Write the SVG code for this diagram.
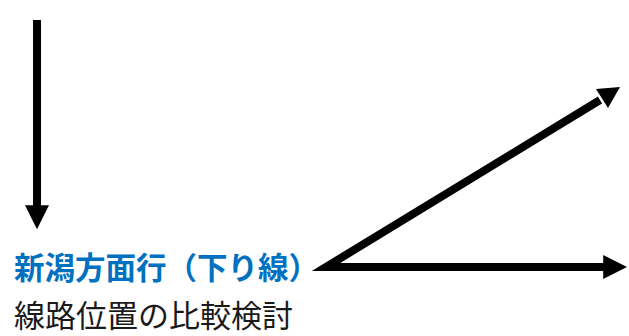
<svg xmlns="http://www.w3.org/2000/svg" width="629" height="336" viewBox="0 0 629 336">
<style>
.t{font-family:"Noto Sans CJK JP","Noto Sans",sans-serif;}
.title{font-size:30.5px;font-weight:bold;fill:#0070C0;}
.sub{font-size:31px;fill:#1a1a1a;}
.ln{stroke:#000;stroke-width:8;fill:none;}
</style>
<defs>
<marker id="ah" viewBox="0 0 10 10" refX="2" refY="5" markerWidth="3" markerHeight="3" orient="auto" markerUnits="strokeWidth">
<path d="M0,0 L10,5 L0,10 z" fill="#000"/>
</marker>
</defs>
<g id="connectors">
<line class="ln" x1="37" y1="20" x2="37" y2="210" marker-end="url(#ah)"/>
<polyline class="ln" points="600,100 326,267 608,267" stroke-linejoin="miter" stroke-miterlimit="10" marker-end="url(#ah)"/>
<path d="M620,87 L596,89 L608,108 z" fill="#000"/>
</g>
<g id="label">
<text class="t title" x="14" y="279">新潟方面行（下り線）</text>
<text class="t sub" x="14" y="327">線路位置の比較検討</text>
</g>
</svg>
